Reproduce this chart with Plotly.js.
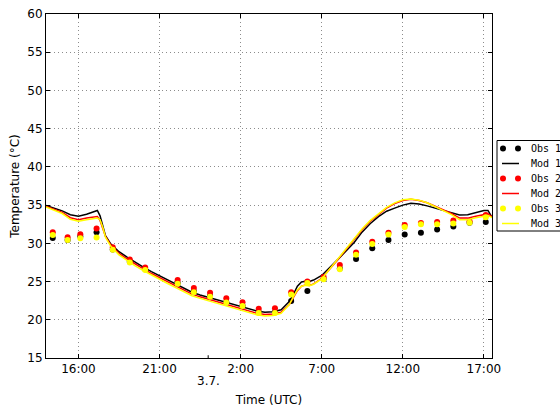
<!DOCTYPE html>
<html>
<head>
<meta charset="utf-8">
<script src="https://cdn.plot.ly/plotly-3.0.1.min.js"></script>
<style>html,body{margin:0;padding:0;background:#fff;}#chart{width:560px;height:407px;}</style>
</head>
<body>
<div id="chart"></div>
<script>
// ---- data ----
const modTime = [
 "2020-07-02 14:00","2020-07-02 14:30","2020-07-02 15:00","2020-07-02 15:30","2020-07-02 16:00","2020-07-02 16:30",
 "2020-07-02 17:00","2020-07-02 17:10","2020-07-02 17:20","2020-07-02 17:30","2020-07-02 17:40","2020-07-02 18:00",
 "2020-07-02 18:30","2020-07-02 19:00","2020-07-02 19:30","2020-07-02 20:00","2020-07-02 20:30","2020-07-02 21:00",
 "2020-07-02 21:30","2020-07-02 22:00","2020-07-02 22:30","2020-07-02 23:00","2020-07-02 23:30",
 "2020-07-03 00:00","2020-07-03 00:30","2020-07-03 01:00","2020-07-03 01:30","2020-07-03 02:00","2020-07-03 02:30",
 "2020-07-03 03:00","2020-07-03 03:30","2020-07-03 04:00","2020-07-03 04:30","2020-07-03 05:00","2020-07-03 05:15",
 "2020-07-03 05:30","2020-07-03 05:45","2020-07-03 06:00","2020-07-03 06:15","2020-07-03 06:30","2020-07-03 07:00",
 "2020-07-03 07:30","2020-07-03 08:00","2020-07-03 08:30","2020-07-03 09:00","2020-07-03 09:30","2020-07-03 10:00",
 "2020-07-03 10:30","2020-07-03 11:00","2020-07-03 11:30","2020-07-03 12:00","2020-07-03 12:30","2020-07-03 13:00",
 "2020-07-03 13:30","2020-07-03 14:00","2020-07-03 14:30","2020-07-03 15:00","2020-07-03 15:30","2020-07-03 16:00",
 "2020-07-03 16:30","2020-07-03 17:00","2020-07-03 17:15","2020-07-03 17:30"
];
const mod1 = [34.95,34.6,34.25,33.75,33.55,33.8,34.15,34.3,33.6,32.2,31.0,29.9,28.9,28.2,27.5,26.9,26.3,25.75,25.2,24.65,24.1,23.6,23.25,
 22.95,22.65,22.35,22.05,21.75,21.45,21.15,21.0,21.05,21.3,22.4,23.3,24.4,24.95,25.05,25.0,25.2,25.8,26.8,27.9,29.0,30.1,31.5,32.6,
 33.5,34.2,34.6,35.0,35.25,35.15,34.9,34.6,34.4,34.0,33.7,33.75,34.0,34.3,34.3,33.4];
const mod2 = [34.85,34.45,34.05,33.35,33.1,33.3,33.45,33.5,33.0,32.0,30.9,29.75,28.7,27.95,27.25,26.65,26.05,25.5,24.95,24.4,23.85,23.35,23.0,
 22.7,22.4,22.1,21.8,21.5,21.2,20.85,20.7,20.75,21.0,22.0,22.9,23.8,24.4,24.55,24.5,24.7,25.4,26.6,27.9,29.2,30.5,31.8,32.9,
 33.8,34.6,35.2,35.6,35.75,35.6,35.3,34.85,34.45,33.9,33.3,33.3,33.55,33.8,33.85,33.5];
const mod3 = [34.75,34.3,33.9,33.15,32.9,33.1,33.25,33.3,33.1,32.1,30.8,29.6,28.5,27.75,27.05,26.45,25.85,25.3,24.75,24.2,23.65,23.15,22.8,
 22.5,22.2,21.9,21.6,21.3,21.0,20.65,20.5,20.55,20.85,22.0,23.0,23.9,24.4,24.5,24.45,24.65,25.35,26.65,28.0,29.3,30.6,31.9,33.0,
 33.9,34.7,35.3,35.7,35.8,35.65,35.3,34.8,34.35,33.75,33.1,33.1,33.35,33.6,33.65,33.35];

const obsTime = [
 "2020-07-02 14:25","2020-07-02 15:20","2020-07-02 16:07","2020-07-02 17:07","2020-07-02 18:07","2020-07-02 19:10",
 "2020-07-02 20:07","2020-07-02 22:07","2020-07-02 23:07","2020-07-03 00:07","2020-07-03 01:07","2020-07-03 02:07",
 "2020-07-03 03:07","2020-07-03 04:07","2020-07-03 05:07","2020-07-03 06:07","2020-07-03 07:07","2020-07-03 08:07",
 "2020-07-03 09:07","2020-07-03 10:07","2020-07-03 11:07","2020-07-03 12:07","2020-07-03 13:07","2020-07-03 14:07",
 "2020-07-03 15:07","2020-07-03 16:07","2020-07-03 17:07"
];
const obs1 = [30.7,30.45,30.9,31.45,29.2,27.6,26.6,24.8,23.7,23.1,22.3,21.85,21.0,21.0,22.45,23.75,25.35,26.7,27.95,29.35,30.45,31.15,31.4,31.8,32.2,32.7,32.8];
const obs2 = [31.45,30.8,31.2,31.95,29.5,27.9,26.85,25.2,24.15,23.55,22.8,22.3,21.45,21.5,23.6,25.0,25.6,27.15,28.8,30.2,31.4,32.4,32.65,32.8,33.0,32.9,33.7];
const obs3 = [31.1,30.45,30.65,30.75,29.15,27.5,26.5,24.7,23.6,23.0,22.25,21.8,20.9,20.9,23.3,24.8,25.3,26.6,28.5,29.9,31.15,32.15,32.5,32.5,32.6,32.7,33.4];

const seriesNames = ["Obs 1","Mod 1","Obs 2","Mod 2","Obs 3","Mod 3"];
const tickVals = ["2020-07-02 16:00","2020-07-02 21:00","2020-07-03 02:00","2020-07-03 07:00","2020-07-03 12:00","2020-07-03 17:00"];
const tickText = ["16:00","21:00","2:00","7:00","12:00","17:00"];
const dateLabel = "3.7.";
const dateLabelAt = "2020-07-03 00:00";
const xRange = ["2020-07-02 14:00","2020-07-03 17:30"];

// ---- chart ----
const colors = ["#000000","#ff0000","#ffff00"];
const obsSets = [obs1, obs2, obs3];
const modSets = [mod1, mod2, mod3];
const traces = [];
for (let i = 0; i < 3; i++) {
  traces.push({x: obsTime, y: obsSets[i], type: "scatter", mode: "markers", name: seriesNames[2*i],
    marker: {color: colors[i], size: 6, line: {width: 0}}});
  traces.push({x: modTime, y: modSets[i], type: "scatter", mode: "lines", name: seriesNames[2*i+1],
    line: {color: colors[i], width: 1.5}});
}

const axisCommon = {
  showline: true, linecolor: "#000", linewidth: 1, mirror: "ticks",
  ticks: "inside", ticklen: 4, tickcolor: "#000",
  showgrid: true, gridcolor: "#8c8c8c", gridwidth: 1, griddash: "1px,3px",
  zeroline: false, tickfont: {family: "DejaVu Sans", size: 12, color: "#000"}
};

// hand-made legend (matplotlib style: 2 dots per marker entry, compact rows)
const shapes = [{type: "line", xref: "x", yref: "paper", x0: dateLabelAt, x1: dateLabelAt, y0: 0, y1: 0.008,
    line: {color: "#000", width: 1}}];
const annotations = [{x: dateLabelAt, xref: "x", y: -0.067, yref: "paper", text: dateLabel, showarrow: false,
    font: {family: "DejaVu Sans", size: 12, color: "#000"}, xanchor: "center", yanchor: "middle"}];
shapes.push({type: "rect", xref: "paper", yref: "paper", xsizemode: "pixel", ysizemode: "pixel",
  xanchor: 1, yanchor: 1, x0: 5, x1: 90, y0: -126.5, y1: -217, line: {color: "#000", width: 1}, fillcolor: "#fff", layer: "above"});
seriesNames.forEach(function(nm, k) {
  const col = colors[Math.floor(k/2)];
  const yo = -(134.5 + 15*k);
  if (k % 2 === 0) {
    [11, 26].forEach(function(cx) {
      shapes.push({type: "circle", xref: "paper", yref: "paper", xsizemode: "pixel", ysizemode: "pixel",
        xanchor: 1, yanchor: 1, x0: cx-3, x1: cx+3, y0: yo-3, y1: yo+3, line: {width: 0}, fillcolor: col, layer: "above"});
    });
  } else {
    shapes.push({type: "line", xref: "paper", yref: "paper", xsizemode: "pixel", ysizemode: "pixel",
      xanchor: 1, yanchor: 1, x0: 10, x1: 27, y0: yo, y1: yo, line: {color: col, width: 1.5}, layer: "above"});
  }
  annotations.push({xref: "paper", yref: "paper", x: (529-46)/446, y: (358 - (148 + 15*k))/344.5,
    xanchor: "left", yanchor: "middle", showarrow: false, text: nm,
    font: {family: "DejaVu Sans Mono", size: 10, color: "#000"}});
});

const layout = {
  width: 560, height: 407,
  margin: {l: 46, r: 68, t: 13.5, b: 49, autoexpand: false},
  paper_bgcolor: "#fff", plot_bgcolor: "#fff",
  showlegend: false,
  xaxis: Object.assign({}, axisCommon, {
    type: "date", range: xRange, tickmode: "array", tickvals: tickVals, ticktext: tickText,
    title: {text: "Time (UTC)", font: {family: "DejaVu Sans", size: 12, color: "#000"}, standoff: 20}
  }),
  yaxis: Object.assign({}, axisCommon, {
    range: [15, 60], dtick: 5, tick0: 15,
    title: {text: "Temperature (°C)", font: {family: "DejaVu Sans", size: 12, color: "#000"}, standoff: 5}
  }),
  annotations: annotations,
  shapes: shapes
};

Plotly.newPlot("chart", traces, layout, {displayModeBar: false, staticPlot: true});
</script>
</body>
</html>
